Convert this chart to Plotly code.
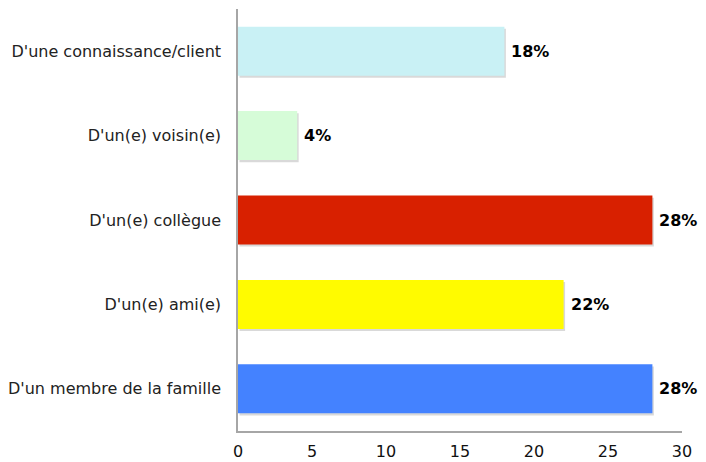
import plotly.graph_objects as go

categories = ["D'un membre de la famille", "D'un(e) ami(e)", "D'un(e) collègue",
              "D'un(e) voisin(e)", "D'une connaissance/client"]
values = [28, 22, 28, 4, 18]
labels = ["28%", "22%", "28%", "4%", "18%"]
colors = ["#4482ff", "#fffb00", "#d82000", "#d6fcd8", "#c9f1f5"]
x_ticks = [0, 5, 10, 15, 20, 25, 30]

fig = go.Figure()
# subtle drop shadow
fig.add_trace(go.Bar(
    y=categories, x=values, orientation="h",
    marker=dict(color="rgba(0,0,0,0.15)", line=dict(width=0)),
    width=0.58, offset=-0.315, base=0.1, hoverinfo="skip", showlegend=False,
))
fig.add_trace(go.Bar(
    y=categories, x=values, orientation="h",
    marker=dict(color=colors, line=dict(width=0)),
    width=0.58, offset=-0.29, showlegend=False,
))
for c, v, t in zip(categories, values, labels):
    fig.add_annotation(x=v, y=c, text="<b>" + t + "</b>", showarrow=False,
                       xanchor="left", xshift=5,
                       font=dict(family="DejaVu Sans", size=16, color="#000"))

fig.update_layout(
    width=690, height=454,
    margin=dict(l=230, r=16, t=1, b=31),
    paper_bgcolor="white", plot_bgcolor="white",
    barmode="overlay",
    font=dict(family="DejaVu Sans", size=16, color="#222"),
    xaxis=dict(range=[0, 30], tickvals=x_ticks, showgrid=False, zeroline=False,
               showline=True, linecolor="#a6a6a6", linewidth=1.5, automargin=False,
               ticks="outside", ticklen=5, tickcolor="rgba(0,0,0,0)",
               tickfont=dict(size=16, color="#111")),
    yaxis=dict(categoryorder="array", categoryarray=categories, range=[-0.5, 4.5],
               showgrid=False, zeroline=False, showline=True, linecolor="#a6a6a6",
               linewidth=1.5, automargin=False,
               ticks="outside", ticklen=12, tickcolor="rgba(0,0,0,0)",
               tickfont=dict(size=16, color="#222")),
)
fig.write_html("out.html")
